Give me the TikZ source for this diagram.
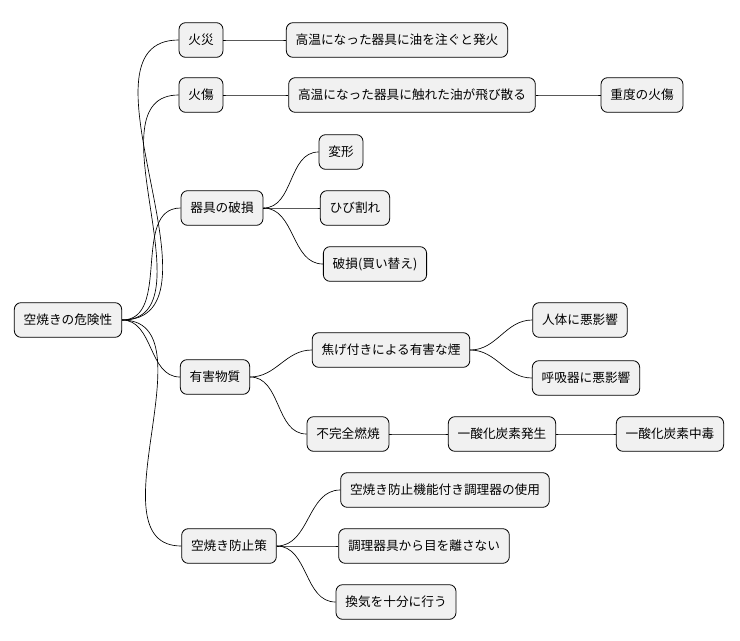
\documentclass[tikz,border=0pt]{standalone}
\usepackage{fontspec}
\setmainfont{Noto Sans CJK JP}
\definecolor{boxfill}{HTML}{F1F1F1}
\tikzset{
  topic/.style={draw=black, fill=boxfill, rounded corners=5pt, line width=0.6pt,
    minimum height=26pt, inner xsep=7pt, font=\fontsize{9.5}{11}\selectfont},
  branch/.style={draw=black, line width=0.5pt}
}
\begin{document}
\begin{tikzpicture}[x=0.75pt,y=-0.75pt]
\useasboundingbox (0,0) rectangle (740,640);
% root
\node[topic] (risk) at (68,320) {空焼きの危険性};
% first level
\node[topic] (fire) at (201,40) {火災};
\node[topic] (burn) at (201,95) {火傷};
\node[topic] (damage) at (222,208) {器具の破損};
\node[topic] (toxic) at (215,377) {有害物質};
\node[topic] (prevent) at (229,546) {空焼き防止策};
% details
\node[topic] (ignite) at (397,40) {高温になった器具に油を注ぐと発火};
\node[topic] (splash) at (412,95) {高温になった器具に触れた油が飛び散る};
\node[topic] (severe) at (642,95) {重度の火傷};
\node[topic] (warp) at (341,152) {変形};
\node[topic] (crack) at (355,208) {ひび割れ};
\node[topic] (broken) at (375,264) {破損(買い替え)};
\node[topic] (smoke) at (391,350) {焦げ付きによる有害な煙};
\node[topic] (body) at (580,320) {人体に悪影響};
\node[topic] (lung) at (586,378) {呼吸器に悪影響};
\node[topic] (incomp) at (348,434) {不完全燃焼};
\node[topic] (coemit) at (502,434) {一酸化炭素発生};
\node[topic] (copoison) at (670,434) {一酸化炭素中毒};
\node[topic] (guard) at (445,490) {空焼き防止機能付き調理器の使用};
\node[topic] (watch) at (424,546) {調理器具から目を離さない};
\node[topic] (vent) at (396,602) {換気を十分に行う};
% connectors
\foreach \a/\b in {risk/fire, risk/burn, risk/damage, risk/toxic, risk/prevent,
  fire/ignite, burn/splash, splash/severe, damage/warp, damage/crack, damage/broken,
  toxic/smoke, toxic/incomp, smoke/body, smoke/lung, incomp/coemit, coemit/copoison,
  prevent/guard, prevent/watch, prevent/vent}
  \draw[branch] (\a.east) to[out=0,in=180] (\b.west);
\end{tikzpicture}
\end{document}
